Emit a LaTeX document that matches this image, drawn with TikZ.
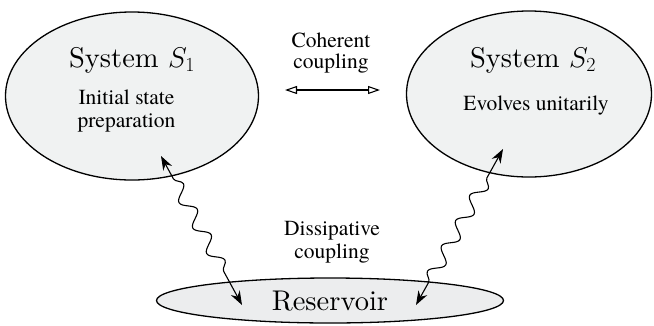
\RequirePackage{fix-cm}
\documentclass[tikz,border=0pt]{standalone}
\usepackage{fontspec}
\newfontfamily\timesfont{texgyretermes-regular.otf}
\newfontfamily\lmten{lmroman10-regular.otf}
\usetikzlibrary{arrows.meta,decorations.pathmorphing,shapes.geometric}
\definecolor{bubblefill}{RGB}{240,242,242}
\definecolor{resfill}{RGB}{236,237,238}

\begin{document}
\begin{tikzpicture}[x=1pt,y=-1pt,
  bubble/.style={ellipse,draw=black,line width=1.3pt,fill=bubblefill,inner sep=0pt},
  big/.style={font=\lmten\fontsize{28.5}{31}\selectfont,anchor=base,inner sep=0pt},
  small/.style={font=\timesfont\fontsize{21.5}{23.5}\selectfont,anchor=base,inner sep=0pt},
  wave/.style={line width=1.1pt,decorate,
    decoration={snake,amplitude=6.5pt,segment length=29pt,pre length=26pt,post length=30pt},
    {Stealth[length=14pt,width=10pt]}-{Stealth[length=14pt,width=10pt]}},
  link/.style={line width=1.1pt,{Triangle[open,length=12pt,width=8pt]}-{Triangle[open,length=12pt,width=8pt]}},
]
\useasboundingbox (0,0) rectangle (654,325);

% the three bodies
\node[bubble,minimum width=253pt,minimum height=168pt] (s1) at (132,96) {};
\node[bubble,minimum width=245pt,minimum height=166pt] (s2) at (529,94) {};
\node[bubble,fill=resfill,minimum width=347pt,minimum height=45pt] (res) at (330,300.5) {};

% labels of the bodies
\node[big] (s1title) at (132,67) {System $S_1$};
\node[small] (s1line1) at (126.5,104) {Initial state};
\node[small] (s1line2) at (126.5,127) {preparation};
\node[big] (s2title) at (533,67) {System $S_2$};
\node[small] (s2line1) at (536,110) {Evolves unitarily};
\node[big] (restitle) at (330,310) {Reservoir};

% coupling labels
\node[small] (coh1) at (331,47) {Coherent};
\node[small] (coh2) at (331,68) {coupling};
\node[small] (dis1) at (332,235) {Dissipative};
\node[small] (dis2) at (332,258) {coupling};

% connector end points
\coordinate (cohL) at (285,90);
\coordinate (cohR) at (380,90);
\coordinate (w1a) at (161,156);
\coordinate (w1b) at (242,305);
\coordinate (w2a) at (416,305);
\coordinate (w2b) at (503,149);

% coherent coupling
\draw[link] (cohL) -- (cohR);

% dissipative couplings
\draw[wave] (w1a) -- (w1b);
\draw[wave] (w2a) -- (w2b);
\end{tikzpicture}
\end{document}
